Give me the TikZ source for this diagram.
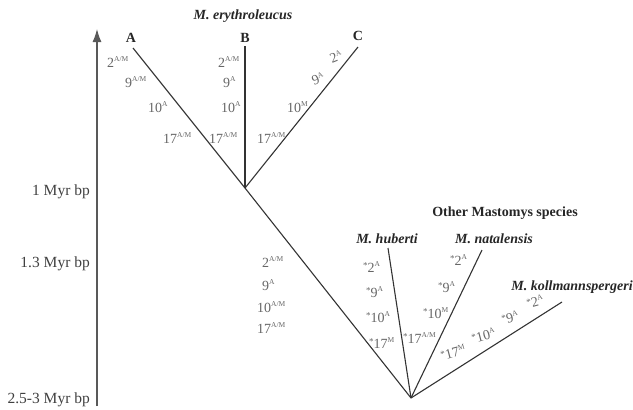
\documentclass[tikz,border=0pt]{standalone}
\usepackage{fontspec}
\setmainfont{Liberation Serif}
\usetikzlibrary{arrows.meta}
\newcommand\sx[1]{\raisebox{0.85ex}{\fontsize{7.5}{8}\selectfont #1}}
\newcommand\st{\raisebox{0.55ex}{\fontsize{9}{9}\selectfont *}}
\tikzset{
  br/.style={draw=black!80, line width=1.1pt},
  lab/.style={anchor=base west, inner sep=0pt, text=black!60, font=\fontsize{14}{16}\selectfont},
  ttl/.style={anchor=base, inner sep=0pt, text=black!85, font=\fontsize{14}{16}\selectfont\bfseries\itshape},
  ttb/.style={anchor=base, inner sep=0pt, text=black!85, font=\fontsize{14}{16}\selectfont\bfseries},
  axl/.style={anchor=base east, inner sep=0pt, text=black!75, font=\fontsize{15.5}{17}\selectfont},
}
\begin{document}
\begin{tikzpicture}[x=1pt,y=-1pt]
\useasboundingbox (0,0) rectangle (633,410);
% axis
\coordinate (ax0) at (97,406);
\coordinate (ax1) at (97,29);
\draw[draw=black!65, line width=1.2pt, -{Latex[length=13pt,width=9pt]}] (ax0) -- (ax1);
\node[axl] (t1) at (90,195) {1 Myr bp};
\node[axl] (t2) at (90,267) {1.3 Myr bp};
\node[axl] (t3) at (90,403) {2.5-3 Myr bp};
% tree points
\coordinate (r1) at (245,188);
\coordinate (r0) at (411,398);
\coordinate (ta) at (133,48);
\coordinate (tb) at (245,46);
\coordinate (tc) at (358,47);
\coordinate (th) at (388,248);
\coordinate (tn) at (482,250);
\coordinate (tk) at (562,302);
\draw[br] (r1) -- (ta);
\draw[br] (r1) -- (tb);
\draw[br] (r1) -- (tc);
\draw[br] (r0) -- (r1);
\draw[br] (r0) -- (th);
\draw[br] (r0) -- (tn);
\draw[br] (r0) -- (tk);
% titles
\node[ttl] (me) at (243,19) {M. erythroleucus};
\node[ttb] (la) at (131,42) {A};
\node[ttb] (lb) at (245,42) {B};
\node[ttb] (lc) at (358,40) {C};
\node[ttb] (om) at (505,216) {Other Mastomys species};
\node[ttl] (mh) at (387,243) {M. huberti};
\node[ttl] (mn) at (494,243) {M. natalensis};
\node[ttl] (mk) at (572,290) {M. kollmannspergeri};
% A branch
\node[lab] (a1) at (107,67) {2\sx{A/M}};
\node[lab] (a2) at (125,87) {9\sx{A/M}};
\node[lab] (a3) at (148,112) {10\sx{A}};
\node[lab] (a4) at (163,143) {17\sx{A/M}};
% B branch
\node[lab] (b1) at (218,67) {2\sx{A/M}};
\node[lab] (b2) at (223,87) {9\sx{A}};
\node[lab] (b3) at (221,112) {10\sx{A}};
\node[lab] (b4) at (209,143) {17\sx{A/M}};
% C branch
\node[lab] (c4) at (257,143) {17\sx{A/M}};
\node[lab] (c3) at (287,112) {10\sx{M}};
\node[lab, rotate=22] (c2) at (314,86) {9\sx{A}};
\node[lab, rotate=22] (c1) at (332,64) {2\sx{A}};
% main branch
\node[lab] (m1) at (262,267) {2\sx{A/M}};
\node[lab] (m2) at (262,290) {9\sx{A}};
\node[lab] (m3) at (257,312) {10\sx{A/M}};
\node[lab] (m4) at (257,333) {17\sx{A/M}};
% huberti
\node[lab] (h1) at (363,272) {\st2\sx{A}};
\node[lab] (h2) at (366,297) {\st9\sx{A}};
\node[lab] (h3) at (366,322) {\st10\sx{A}};
\node[lab] (h4) at (369,348) {\st17\sx{M}};
% natalensis
\node[lab] (n1) at (450,265) {\st2\sx{A}};
\node[lab] (n2) at (438,292) {\st9\sx{A}};
\node[lab] (n3) at (423,318) {\st10\sx{M}};
\node[lab] (n4) at (403,343) {\st17\sx{A/M}};
% kollmannspergeri
\node[lab, rotate=15] (k4) at (442,361) {\st17\sx{M}};
\node[lab, rotate=15] (k3) at (473,344) {\st10\sx{A}};
\node[lab, rotate=15] (k2) at (503,325) {\st9\sx{A}};
\node[lab, rotate=15] (k1) at (528,309) {\st2\sx{A}};
\end{tikzpicture}
\end{document}
